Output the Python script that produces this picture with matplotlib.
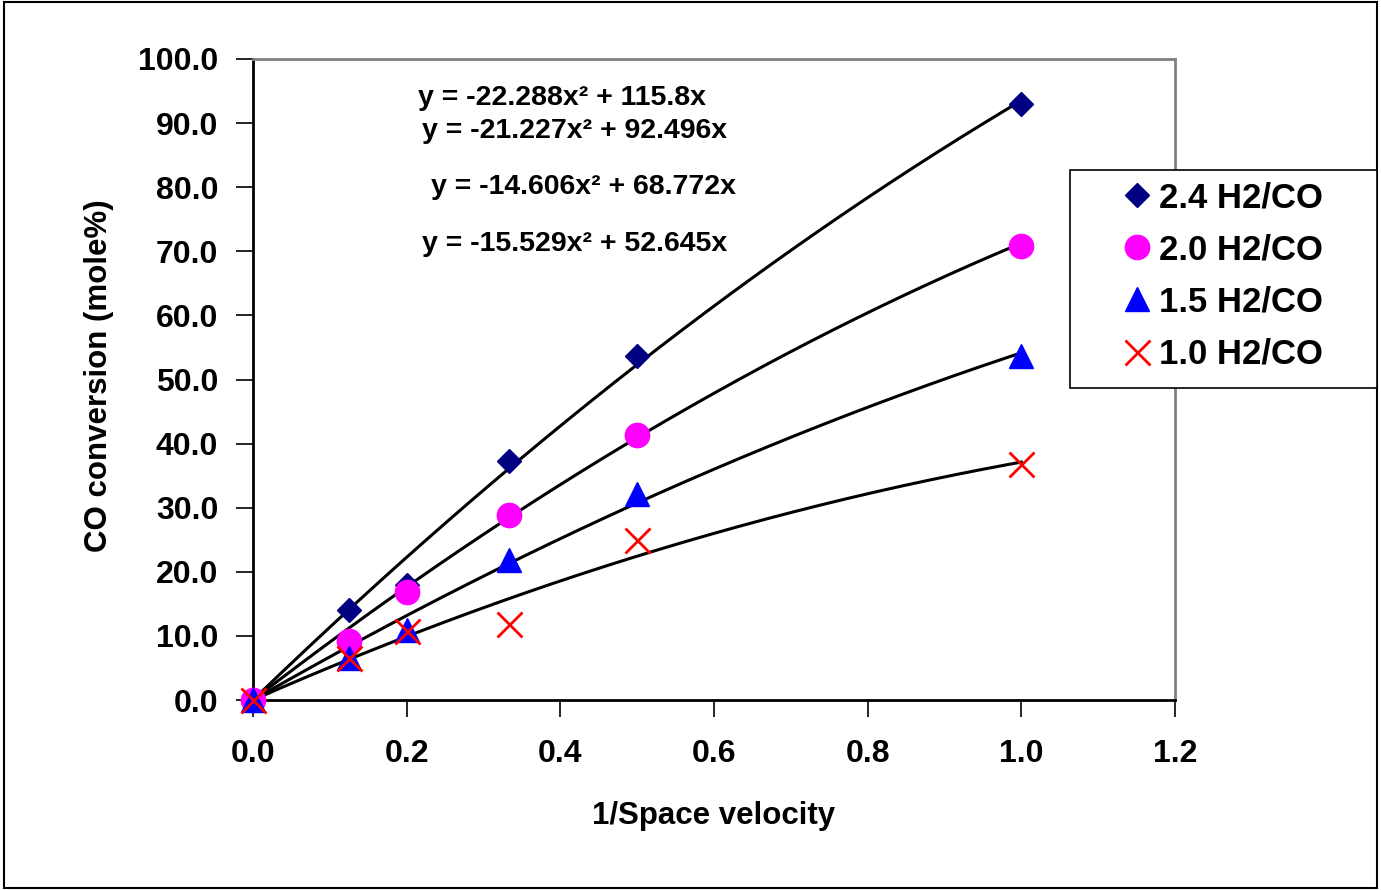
import numpy as np
import matplotlib.pyplot as plt
from matplotlib.patches import Rectangle
from matplotlib.ticker import FormatStrFormatter

plt.rcParams['font.family'] = ['Liberation Sans', 'DejaVu Sans']
plt.rcParams['font.weight'] = 'bold'

# Data
x_vals = [0.0, 0.125, 0.2, 0.333, 0.5, 1.0]
conv_24 = [0.0, 14.0, 18.0, 37.3, 53.7, 93.0]
conv_20 = [0.0, 9.2, 16.9, 28.9, 41.3, 70.8]
conv_15 = [0.0, 6.6, 10.9, 21.8, 32.1, 53.7]
conv_10 = [0.0, 6.5, 10.8, 11.8, 25.0, 36.8]

labels = ['2.4 H2/CO', '2.0 H2/CO', '1.5 H2/CO', '1.0 H2/CO']

# trendline coefficients (a*x^2 + b*x)
coef_a = [-22.288, -21.227, -14.606, -15.529]
coef_b = [115.8, 92.496, 68.772, 52.645]
eq_text = ['y = -22.288x\u00b2 + 115.8x', 'y = -21.227x\u00b2 + 92.496x',
           'y = -14.606x\u00b2 + 68.772x', 'y = -15.529x\u00b2 + 52.645x']

fig = plt.figure(figsize=(13.81, 8.90), dpi=100)
ax = fig.add_axes([253 / 1381, 1 - 700 / 890, 922 / 1381, 641 / 890])

# outer chart border
fig.patches.append(Rectangle((4 / 1381, 2 / 890), 1373 / 1381, 886 / 890,
                             transform=fig.transFigure, fill=False,
                             edgecolor='black', lw=1.5, zorder=0))

# trendlines
xx = np.linspace(0, 1.0, 200)
for a, b in zip(coef_a, coef_b):
    ax.plot(xx, a * xx ** 2 + b * xx, color='black', lw=2.2, zorder=2)

# markers (not clipped, the ones at the origin show whole)
h1, = ax.plot(x_vals, conv_24, 'D', color='#000080', ms=12.5, ls='none', zorder=3, clip_on=False)
h2, = ax.plot(x_vals, conv_20, 'o', color='#FF00FF', ms=17.5, ls='none', zorder=3, clip_on=False)
h3, = ax.plot(x_vals, conv_15, '^', color='#0000FF', ms=17, ls='none', zorder=3, clip_on=False)
h4, = ax.plot(x_vals, conv_10, 'x', color='#FF0000', ms=18, mew=2, ls='none', zorder=4, clip_on=False)

ax.set_xlim(0, 1.2)
ax.set_ylim(0, 100)
ax.set_xticks(np.arange(0, 1.21, 0.2))
ax.set_yticks(np.arange(0, 100.1, 10))
ax.xaxis.set_major_formatter(FormatStrFormatter('%.1f'))
ax.yaxis.set_major_formatter(FormatStrFormatter('%.1f'))
ax.tick_params(direction='out', length=12, width=1.2, labelsize=23)
ax.tick_params(axis='x', pad=16)
ax.tick_params(axis='y', pad=13)

for side in ['left', 'bottom']:
    ax.spines[side].set_color('black')
    ax.spines[side].set_linewidth(2)
for side in ['top', 'right']:
    ax.spines[side].set_color('#808080')
    ax.spines[side].set_linewidth(2)

ax.set_xlabel('1/Space velocity', fontsize=22.5, fontweight='bold', va='center')
ax.xaxis.set_label_coords(0.5, (700 - 816) / 641)
ax.set_ylabel('CO conversion (mole%)', fontsize=22.5, fontweight='bold', va='center')
ax.yaxis.set_label_coords((99 - 253) / 922, (700 - 376) / 641)

# equations
eqs = [(418, 98), (422, 131), (431, 187), (422, 244)]
for (px, py), txt in zip(eqs, eq_text):
    fig.text(px / 1381, 1 - py / 890, txt, fontsize=20.5, fontweight='bold',
             va='center', ha='left')

# legend frame + legend
fig.patches.append(Rectangle((1070 / 1381, 1 - 388 / 890), 307 / 1381, 218 / 890,
                             transform=fig.transFigure, fill=True, facecolor='white',
                             edgecolor='black', lw=1.2, zorder=1))
fig.legend([h1, h2, h3, h4], labels, loc='upper left',
           bbox_to_anchor=(1102 / 1381, 1 - 164 / 890), frameon=False,
           prop={'weight': 'bold', 'size': 25}, handlelength=1.0,
           handletextpad=0.15, labelspacing=0.55, borderpad=0)

fig.savefig('out.png', dpi=100)
